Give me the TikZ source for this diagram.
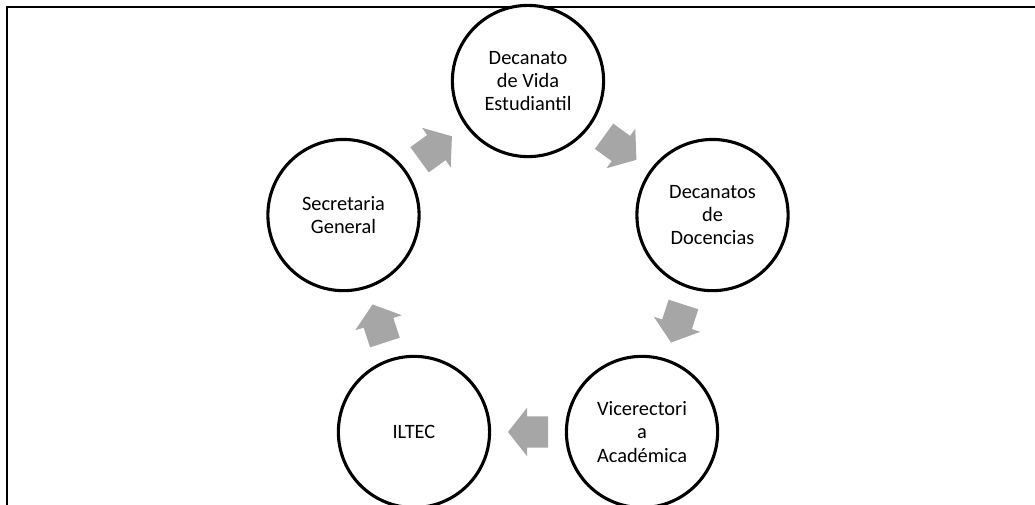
\documentclass[tikz,border=0pt]{standalone}
\usepackage{fontspec}
\setmainfont{Carlito}
\usepackage{tikz}
\usetikzlibrary{calc}
\definecolor{arrowgray}{HTML}{A6A6A6}
\tikzset{
    unit/.style={circle,draw,line width=2.2pt,fill=white,minimum size=3.78cm,inner sep=0pt,
        align=center,font=\fontsize{14.5}{16.5}\selectfont},
    cyclearrow/.style={fill=arrowgray,draw=none}
}

\begin{document}
\begin{tikzpicture}
                            \useasboundingbox (-13.2,-5.725) rectangle (12.675,6.875);
                            \clip (-13.2,-5.725) rectangle (12.675,6.875);
                            % frame
                            \draw[line width=1.4pt] (-13.025,-5.8) -- (-13.025,6.7) -- (12.8,6.7);
                            % units around the cycle
                            \node[unit] (dve) at (90:4.85) {Decanato\\de Vida\\Estudiantil};
                            \node[unit] (dd) at (18:4.85) {Decanatos\\de\\Docencias};
                            \node[unit] (va) at (-54:4.85) {Vicerectori\\a\\Académica};
                            \node[unit] (iltec) at (-126:4.85) {ILTEC};
                            \node[unit] (sg) at (162:4.85) {Secretaria\\General};
                            % arrows between units
                            \foreach \a/\b in {dve/dd, dd/va, va/iltec, iltec/sg, sg/dve}
                                \path let \p1=($(\b)-(\a)$), \n1={atan2(\y1,\x1)} in
                                    [shift={($(\a)!0.5!(\b)$)}, rotate=\n1]
                                    (0,0) coordinate (m)
                                    [cyclearrow] (-0.5,-0.39) -- (0.02,-0.39) -- (0.02,-0.61) -- (0.5,0)
                                    -- (0.02,0.61) -- (0.02,0.39) -- (-0.5,0.39) -- cycle;
                        \end{tikzpicture}
\end{document}
